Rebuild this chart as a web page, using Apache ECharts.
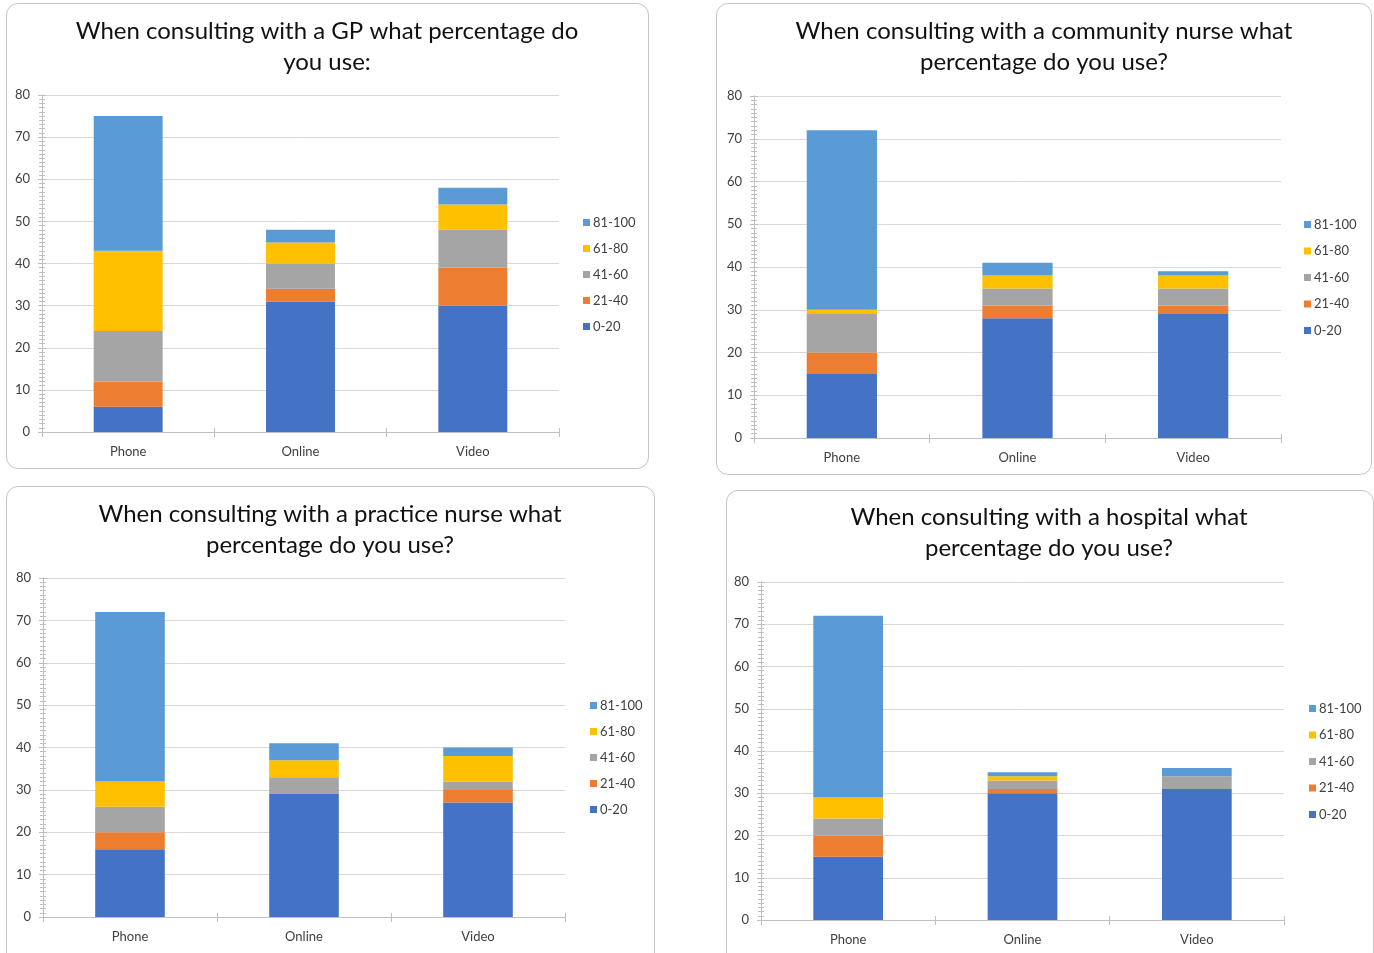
<!DOCTYPE html>
<html>
<head>
<meta charset="utf-8">
<script src="https://cdn.jsdelivr.net/npm/echarts@6/dist/echarts.min.js"></script>
<style>
  html, body { margin: 0; padding: 0; width: 1374px; height: 953px; overflow: hidden; background: #fff; }
  .panel { position: absolute; box-sizing: border-box; border: 1px solid #c4c4c4; border-radius: 12px; background: #fff; overflow: hidden; }
  .chart { position: absolute; left: 0; top: 0; right: 0; bottom: 0; }
</style>
</head>
<body>
<div class="panel" id="p0" style="left:6px;top:3px;width:643px;height:466px"><div class="chart" id="c0"></div></div>
<div class="panel" id="p1" style="left:716px;top:3px;width:656px;height:472px"><div class="chart" id="c1"></div></div>
<div class="panel" id="p2" style="left:6px;top:486px;width:649px;height:480px"><div class="chart" id="c2"></div></div>
<div class="panel" id="p3" style="left:726px;top:490px;width:648px;height:480px"><div class="chart" id="c3"></div></div>
<script>
// Consultation modes and the percentage bands respondents reported
const categories = ['Phone', 'Online', 'Video'];
const bands = ['0-20', '21-40', '41-60', '61-80', '81-100'];
const bandColors = ['#4472C4', '#ED7D31', '#A5A5A5', '#FFC000', '#5B9BD5'];

// GP: counts per band, one array per band, values for Phone / Online / Video
const gp_0_20   = [6, 31, 30];
const gp_21_40  = [6, 3, 9];
const gp_41_60  = [12, 6, 9];
const gp_61_80  = [19, 5, 6];
const gp_81_100 = [32, 3, 4];

// Community nurse
const cn_0_20   = [15, 28, 29];
const cn_21_40  = [5, 3, 2];
const cn_41_60  = [9, 4, 4];
const cn_61_80  = [1, 3, 3];
const cn_81_100 = [42, 3, 1];

// Practice nurse
const pn_0_20   = [16, 29, 27];
const pn_21_40  = [4, 0, 3];
const pn_41_60  = [6, 4, 2];
const pn_61_80  = [6, 4, 6];
const pn_81_100 = [40, 4, 2];

// Hospital
const ho_0_20   = [15, 30, 31];
const ho_21_40  = [5, 1, 0];
const ho_41_60  = [4, 2, 3];
const ho_61_80  = [5, 1, 0];
const ho_81_100 = [43, 1, 2];

const titles = [
  'When consulting with a GP what percentage do\nyou use:',
  'When consulting with a community nurse what\npercentage do you use?',
  'When consulting with a practice nurse what\npercentage do you use?',
  'When consulting with a hospital what\npercentage do you use?'
];

const yMin = 0, yMax = 80, yStep = 10;

const panelData = [
  [gp_0_20, gp_21_40, gp_41_60, gp_61_80, gp_81_100],
  [cn_0_20, cn_21_40, cn_41_60, cn_61_80, cn_81_100],
  [pn_0_20, pn_21_40, pn_41_60, pn_61_80, pn_81_100],
  [ho_0_20, ho_21_40, ho_41_60, ho_61_80, ho_81_100]
];

// Per-panel placement (pixels inside each panel)
const layouts = [
  { grid: { left: 35, top: 91, width: 517, height: 337 }, titleX: 320, titleTop: 12, legendX: 576, legendTop: 212, legendGap: 13 },
  { grid: { left: 37, top: 92, width: 527, height: 342 }, titleX: 327, titleTop: 12, legendX: 587, legendTop: 214, legendGap: 13.5 },
  { grid: { left: 36, top: 91, width: 522, height: 339 }, titleX: 323, titleTop: 12, legendX: 583, legendTop: 212, legendGap: 13 },
  { grid: { left: 34, top: 91, width: 523, height: 338 }, titleX: 322, titleTop: 11, legendX: 582, legendTop: 211, legendGap: 13.5 }
];

const FONT = 'Lato, "Open Sans", sans-serif';
const AXIS_GREY = '#bfbfbf';

function buildOption(i) {
  const L = layouts[i];
  const series = bands.map((b, k) => ({
    name: b,
    type: 'bar',
    stack: 'total',
    barWidth: '40%',
    itemStyle: { color: bandColors[k] },
    emphasis: { disabled: true },
    data: panelData[i][k]
  }));
  const yBase = {
    type: 'value', min: yMin, max: yMax, interval: yStep,
    axisLine: { show: true, lineStyle: { color: AXIS_GREY } },
    minorSplitLine: { show: false }
  };
  const xBase = {
    type: 'category', data: categories,
    axisLine: { show: true, lineStyle: { color: AXIS_GREY } }
  };
  return {
    animation: false,
    textStyle: { fontFamily: FONT },
    title: {
      text: titles[i],
      left: L.titleX, top: L.titleTop, textAlign: 'center', padding: 0,
      textStyle: { fontFamily: FONT, fontSize: 24, fontWeight: 'normal', color: '#111', lineHeight: 31 }
    },
    legend: {
      data: bands.slice().reverse(),
      orient: 'vertical', left: L.legendX, top: L.legendTop,
      itemWidth: 7, itemHeight: 7, itemGap: L.legendGap, padding: 0,
      icon: 'rect',
      textStyle: { fontFamily: FONT, fontSize: 13, color: '#404040', padding: [0, 0, 0, -2] },
      selectedMode: false
    },
    grid: L.grid,
    xAxis: [
      // boundary ticks below the axis, with the category labels
      Object.assign({}, xBase, {
        axisTick: { show: true, length: 5, lineStyle: { color: AXIS_GREY } },
        axisLabel: { fontFamily: FONT, fontSize: 13, color: '#404040', margin: 13 }
      }),
      // boundary ticks above the axis so they cross it
      Object.assign({}, xBase, {
        position: 'bottom',
        axisTick: { show: true, inside: true, length: 4, lineStyle: { color: AXIS_GREY } },
        axisLabel: { show: false }
      }),
      // short ticks at category centres
      Object.assign({}, xBase, {
        position: 'bottom',
        axisTick: { show: true, inside: true, alignWithLabel: true, length: 4, lineStyle: { color: AXIS_GREY } },
        axisLabel: { show: false }
      })
    ],
    yAxis: [
      Object.assign({}, yBase, {
        axisTick: { show: true, length: 4, lineStyle: { color: AXIS_GREY } },
        minorTick: { show: true, splitNumber: 10, length: 3, lineStyle: { color: AXIS_GREY } },
        axisLabel: { fontFamily: FONT, fontSize: 13, color: '#404040', margin: 12 },
        splitLine: { show: true, lineStyle: { color: '#d9d9d9', width: 1 } }
      }),
      Object.assign({}, yBase, {
        position: 'left',
        axisTick: { show: true, inside: true, length: 4, lineStyle: { color: AXIS_GREY } },
        minorTick: { show: true, splitNumber: 10, length: 3, lineStyle: { color: AXIS_GREY } },
        axisLabel: { show: false },
        splitLine: { show: false }
      })
    ],
    series: series
  };
}

for (let i = 0; i < 4; i++) {
  const chart = echarts.init(document.getElementById('c' + i), null, { renderer: 'canvas' });
  chart.setOption(buildOption(i));
}
</script>
</body>
</html>
